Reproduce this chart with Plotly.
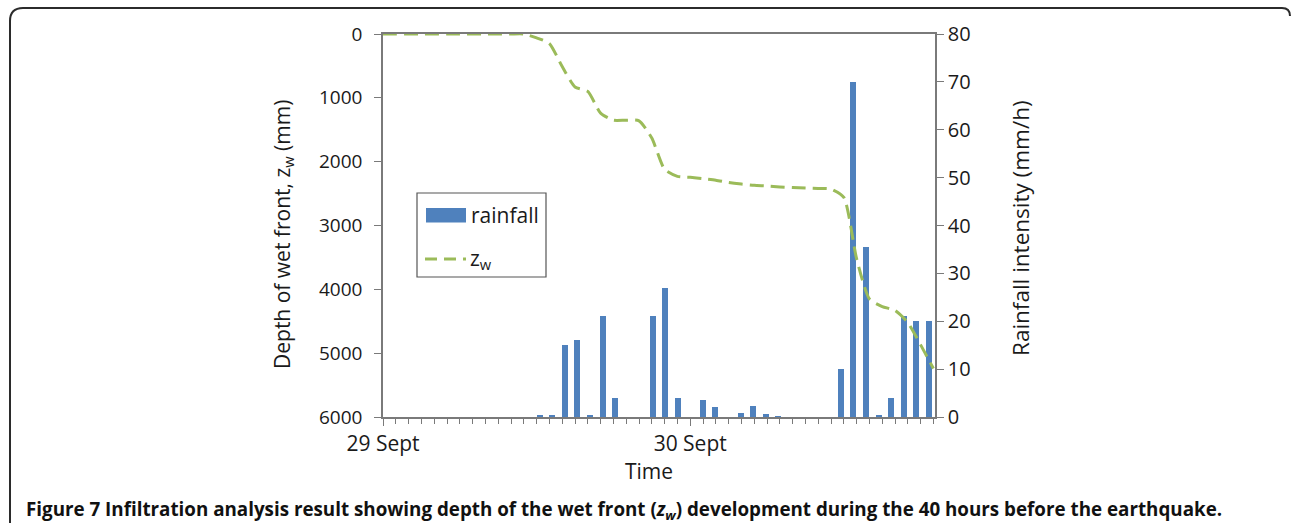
import plotly.graph_objects as go

# ---------------- data ----------------
bar_index = list(range(44))            # hourly rainfall bins
rainfall = [0, 0, 0, 0, 0, 0, 0, 0, 0, 0, 0, 0,
            0.3, 0.5, 15, 16, 0.4, 21, 4, 0, 0, 21, 27, 4,
            0, 3.5, 2, 0, 0.8, 2.3, 0.6, 0.2, 0, 0, 0, 0,
            10, 70, 35.5, 0.3, 4, 21, 20, 20]

hours = list(range(44))                # hours after 29 Sept 00:00
zw = [0, 0, 0, 0, 0, 0, 0, 0, 0, 0, 0, 0,
      60, 150, 510, 830, 900, 1240, 1350, 1350, 1360, 1630,
      2120, 2230, 2245, 2265, 2290, 2325, 2350, 2370, 2380, 2395,
      2405, 2412, 2420, 2430, 2560, 3520, 4150, 4270, 4330, 4520,
      4870, 5240]

x_labels = {"0": "29 Sept", "24": "30 Sept"}

# ---------------- geometry helpers ----------------
W, H = 1292, 523
PL, PR, PT, PB = 383, 935, 34, 417


def px(x):
    return (x - PL) / (PR - PL)


def py(y):
    return (PB - y) / (PB - PT)


AX = "#7a7a7a"
FONT = "Open Sans"
BLUE = "#4F81BD"
GREEN = "#9BBB59"

fig = go.Figure()
fig.add_trace(go.Bar(x=bar_index, y=rainfall, width=0.48, marker=dict(color=BLUE, line=dict(width=0)),
                     xaxis="x", yaxis="y", name="rainfall", showlegend=False))
fig.add_trace(go.Scatter(x=hours, y=zw, mode="lines", xaxis="x2", yaxis="y2", name="z<sub>w</sub>",
                         line=dict(color=GREEN, width=3, dash="14px,7px", shape="spline", smoothing=0.6),
                         showlegend=False))

fig.update_layout(
    width=W, height=H,
    margin=dict(l=PL, r=W - PR, t=PT, b=H - PB, pad=0),
    paper_bgcolor="white", plot_bgcolor="white",
    font=dict(family=FONT, color="#1a1a1a"),
    showlegend=False,
    bargap=0,
    xaxis=dict(domain=[0, 1], range=[-0.5, 43.5], side="top", anchor="y",
               showline=True, linecolor=AX, linewidth=1.5, ticks="", showticklabels=False,
               showgrid=False, zeroline=False),
    xaxis2=dict(overlaying="x", anchor="y2", side="bottom", range=[0, (PR - PL) / 12.8],
                tickmode="linear", tick0=0, dtick=24, ticks="outside", ticklen=7, tickwidth=1.2,
                tickcolor=AX, showline=True, linecolor=AX, linewidth=1.5,
                labelalias=x_labels, tickfont=dict(family=FONT, size=21, color="#1a1a1a"),
                minor=dict(tick0=0, dtick=1, ticks="outside", ticklen=5, tickwidth=1.2, tickcolor=AX,
                           showgrid=False),
                showgrid=False, zeroline=False),
    yaxis=dict(side="right", anchor="x", range=[0, 80], tickmode="linear", tick0=0, dtick=10,
               ticks="outside", ticklen=7, tickwidth=1.2, tickcolor=AX, showline=True, linecolor=AX,
               linewidth=1.5, tickfont=dict(family=FONT, size=20, color="#1a1a1a"),
               showgrid=False, zeroline=False),
    yaxis2=dict(overlaying="y", side="left", anchor="x2", range=[6000, 0], tickmode="linear", tick0=0,
                dtick=1000, ticks="outside", ticklen=7, tickwidth=1.2, tickcolor=AX, showline=True,
                linecolor=AX, linewidth=1.5, tickfont=dict(family=FONT, size=19, color="#1a1a1a"),
                ticklabelstandoff=8, showgrid=False, zeroline=False),
)

ann = []
# axis titles
ann.append(dict(text="Depth of wet front, z<sub>w</sub> (mm)", x=px(283), y=py(235), xref="paper", yref="paper",
                textangle=-90, showarrow=False, font=dict(family=FONT, size=21, color="#1a1a1a"),
                xanchor="center", yanchor="middle"))
ann.append(dict(text="Rainfall intensity (mm/h)", x=px(1020), y=py(228), xref="paper", yref="paper",
                textangle=-90, showarrow=False, font=dict(family=FONT, size=22.5, color="#1a1a1a"),
                xanchor="center", yanchor="middle"))
ann.append(dict(text="Time", x=px(649), y=py(471), xref="paper", yref="paper", showarrow=False,
                font=dict(family=FONT, size=21, color="#1a1a1a"), xanchor="center", yanchor="middle"))
# caption
ann.append(dict(text="<b>Figure 7 Infiltration analysis result showing depth of the wet front (<i>z<sub>w</sub></i>) "
                     "development during the 40 hours before the earthquake.</b>",
                x=px(24), y=py(510), xref="paper", yref="paper", showarrow=False, xanchor="left",
                yanchor="middle", font=dict(family=FONT, size=18.8, color="#111111")))
# legend texts
ann.append(dict(text="rainfall", x=px(469), y=py(215), xref="paper", yref="paper", showarrow=False,
                xanchor="left", yanchor="middle", font=dict(family=FONT, size=21, color="#1a1a1a")))
ann.append(dict(text="z<sub>w</sub>", x=px(468), y=py(259), xref="paper", yref="paper", showarrow=False,
                xanchor="left", yanchor="middle", font=dict(family=FONT, size=21, color="#1a1a1a")))

shapes = []
# legend box
shapes.append(dict(type="rect", xref="paper", yref="paper", x0=px(417), x1=px(546), y0=py(193), y1=py(277),
                   line=dict(color="#555555", width=1.2), fillcolor="white", layer="below"))
shapes.append(dict(type="rect", xref="paper", yref="paper", x0=px(426), x1=px(466), y0=py(208), y1=py(222.5),
                   line=dict(width=0), fillcolor=BLUE))
shapes.append(dict(type="line", xref="paper", yref="paper", x0=px(425), x1=px(466), y0=py(259), y1=py(259),
                   line=dict(color=GREEN, width=3, dash="12px,7px")))


# outer rounded frame (top part visible)
def P(x, y):
    return f"{px(x):.5f},{py(y):.5f}"


frame_path = (f"M {P(10, 530)} L {P(10, 21)} Q {P(10, 8)} {P(23, 8)} "
              f"L {P(1282, 8)} Q {P(1290, 8)} {P(1290, 16)}")
shapes.append(dict(type="path", xref="paper", yref="paper", path=frame_path,
                   line=dict(color="#2b2b2b", width=2)))

fig.update_layout(annotations=ann, shapes=shapes)

fig.write_html("out.html")
